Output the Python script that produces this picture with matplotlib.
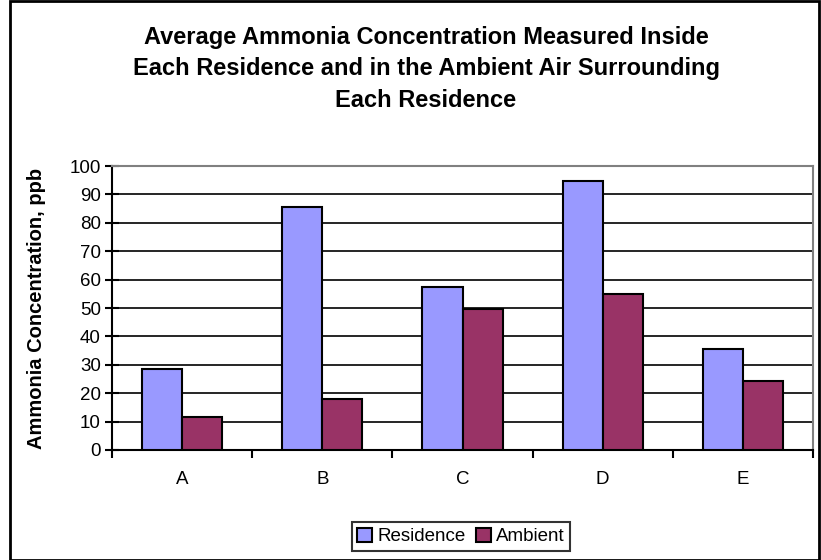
import matplotlib.pyplot as plt
import numpy as np
from matplotlib.patches import Rectangle

plt.rcParams['font.family'] = ['Liberation Sans', 'DejaVu Sans']

# data
sites = ['A', 'B', 'C', 'D', 'E']
residence = [28.5, 85.6, 57.4, 94.8, 35.6]
ambient = [11.5, 17.9, 49.6, 55.1, 24.2]

W, H = 821, 560
fig = plt.figure(figsize=(W / 100, H / 100), dpi=100)

# outer chart frame
fig.patches.append(Rectangle((10 / W, 0), (819 - 10) / W, 559 / H, transform=fig.transFigure,
                             fill=False, edgecolor='black', linewidth=2))

ax = fig.add_axes([112 / W, 1 - 450 / H, (813 - 112) / W, (450 - 166) / H])

x = np.arange(len(sites))
bw = 40 / 140
ax.bar(x - bw / 2, residence, bw, color='#9999FF', edgecolor='black', linewidth=1.5,
       label='Residence', zorder=3)
ax.bar(x + bw / 2, ambient, bw, color='#993366', edgecolor='black', linewidth=1.5,
       label='Ambient', zorder=3)

ax.set_xlim(-0.5, len(sites) - 0.5)
ax.set_ylim(0, 100)
ax.set_yticks(range(0, 101, 10))
ax.set_xticks(x)
ax.set_xticklabels(sites)
ax.set_xticks(np.arange(-0.5, len(sites)), minor=True)
ax.tick_params(axis='x', which='major', length=0, labelsize=13.5, pad=15)
ax.tick_params(axis='x', which='minor', length=6, width=1.5, direction='out')
ax.tick_params(axis='y', length=10, width=1.5, direction='inout', labelsize=13.5, pad=3)

for yv in range(10, 100, 10):
    ax.axhline(yv, color='black', linewidth=1.2, zorder=1)

ax.spines['left'].set_linewidth(1.5)
ax.spines['bottom'].set_linewidth(1.5)
ax.spines['top'].set_color('#808080')
ax.spines['right'].set_color('#808080')
ax.spines['top'].set_linewidth(1.5)
ax.spines['right'].set_linewidth(1.5)

ax.set_ylabel('Ammonia Concentration, ppb', fontsize=14.5, fontweight='bold')
ax.yaxis.set_label_coords(-0.094, 0.5)

fig.text(426 / W, 1 - 69 / H,
         'Average Ammonia Concentration Measured Inside\n'
         'Each Residence and in the Ambient Air Surrounding\n'
         'Each Residence',
         ha='center', va='center', fontsize=17, fontweight='bold', linespacing=1.45)

leg = ax.legend(loc='center', bbox_to_anchor=(461 / W, 1 - 536.5 / H), bbox_transform=fig.transFigure,
                ncol=2, fontsize=13.5, frameon=True, fancybox=False, edgecolor='black',
                handlelength=0.8, handleheight=0.8, handletextpad=0.3, columnspacing=0.5,
                borderpad=0.3)
leg.get_frame().set_linewidth(1.5)

fig.savefig('out.png', dpi=100)
